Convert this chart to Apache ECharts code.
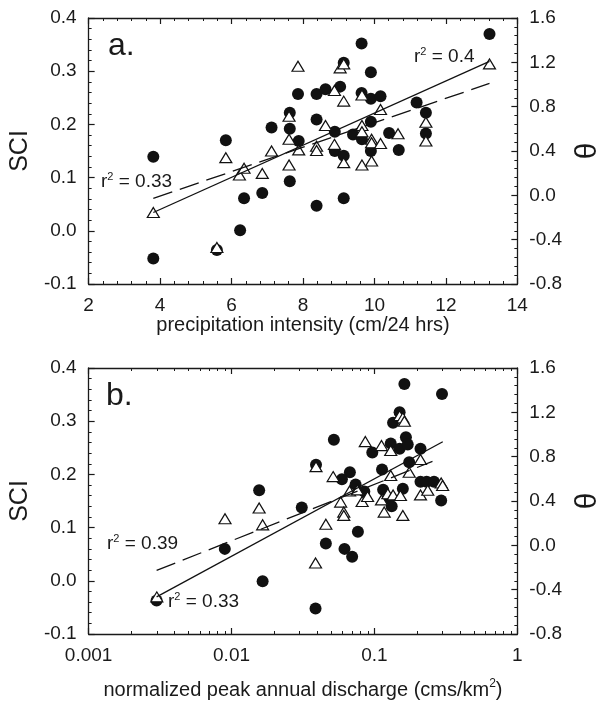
<!DOCTYPE html>
<html>
<head>
<meta charset="utf-8">
<script src="https://cdn.jsdelivr.net/npm/echarts@6/dist/echarts.min.js"></script>
<style>
  html, body { margin: 0; padding: 0; background: #fff; }
  #main { width: 611px; height: 706px; }
</style>
</head>
<body>
<div id="main"></div>
<script>
// panel a - SCI (filled circles) vs precipitation intensity
const precipSciX = [3.81, 3.81, 5.84, 5.59, 6.35, 6.24, 6.86, 7.12, 7.63, 7.63, 7.63, 7.86, 7.88, 8.38, 8.38, 8.38,
  8.63, 9.04, 8.89, 8.89, 9.14, 9.14, 9.14, 9.40, 9.64, 9.64, 9.65, 9.90, 9.90, 9.90, 9.90, 10.17, 10.41, 10.68,
  11.18, 11.44, 11.44, 13.22];
const precipSci = [0.139, -0.052, 0.170, -0.036, 0.061, 0.001, 0.071, 0.194, 0.222, 0.192, 0.093, 0.257, 0.169, 0.257, 0.209, 0.047,
  0.266, 0.271, 0.186, 0.150, 0.316, 0.141, 0.061, 0.181, 0.352, 0.259, 0.172, 0.298, 0.248, 0.205, 0.150, 0.253, 0.184, 0.152,
  0.241, 0.222, 0.183, 0.370];

// panel a - theta (open triangles)
const precipThetaX = [3.81, 5.59, 5.84, 6.22, 6.35, 6.86, 7.12, 7.61, 7.61, 7.61, 7.86, 7.88, 8.38, 8.38, 8.63, 8.88, 8.88,
  9.04, 9.14, 9.14, 9.14, 9.65, 9.65, 9.65, 9.65, 9.92, 9.92, 9.92, 10.17, 10.17, 10.66, 11.44, 11.44, 13.22];
const precipTheta = [-0.155, -0.47, 0.34, 0.184, 0.244, 0.198, 0.40, 0.506, 0.714, 0.274, 1.165, 0.41, 0.443, 0.405, 0.63, 0.946, 0.46,
  1.15, 0.85, 0.295, 1.186, 0.905, 0.63, 0.574, 0.274, 0.506, 0.475, 0.31, 0.775, 0.467, 0.556, 0.66, 0.49, 1.186];

// panel a - regression lines
const precipFitX = [3.81, 13.22];
const precipFitSci = [0.061, 0.277];
const precipFitTheta = [-0.155, 1.209];

// panel b - SCI vs normalized peak annual discharge
const dischSciX = [0.162, 0.297, 0.150, 0.135, 0.052, 0.166, 0.130, 0.150, 0.171, 0.0966, 0.210, 0.039, 0.175, 0.113, 0.0673,
  0.0592, 0.0738, 0.0849, 0.115, 0.158, 0.210, 0.232, 0.261, 0.132, 0.125, 0.293, 0.031, 0.0156, 0.00897, 0.0165, 0.0457,
  0.0617, 0.0698, 0.0766, 0.0387, 0.00299];
const dischSci = [0.370, 0.351, 0.317, 0.297, 0.265, 0.270, 0.258, 0.248, 0.256, 0.241, 0.248, 0.218, 0.223, 0.209, 0.204,
  0.191, 0.181, 0.168, 0.171, 0.173, 0.186, 0.186, 0.186, 0.140, 0.152, 0.151, 0.138, 0.170, 0.060, -0.001, 0.070,
  0.060, 0.045, 0.092, -0.052, -0.037];

// panel b - theta
const dischThetaX = [0.150, 0.158, 0.162, 0.0863, 0.112, 0.130, 0.039, 0.0514, 0.130, 0.175, 0.210, 0.067, 0.076, 0.058, 0.082,
  0.0895, 0.112, 0.124, 0.135, 0.152, 0.210, 0.236, 0.293, 0.300, 0.117, 0.158, 0.061, 0.061, 0.0457, 0.0165, 0.0156,
  0.009, 0.0387, 0.003];
const dischTheta = [1.17, 1.15, 1.12, 0.936, 0.90, 0.856, 0.71, 0.62, 0.63, 0.66, 0.775, 0.49, 0.50, 0.39, 0.395,
  0.44, 0.41, 0.466, 0.455, 0.45, 0.455, 0.497, 0.563, 0.54, 0.30, 0.27, 0.30, 0.27, 0.19, 0.185, 0.337,
  0.24, -0.16, -0.465];

// panel b - regression lines
const dischFitSciX = [0.00299, 0.2547];
const dischFitSci = [0.0196, 0.2244];
const dischFitThetaX = [0.00299, 0.3006];
const dischFitTheta = [-0.465, 0.935];

const logTickLabels = ['0.001', '0.01', '0.1', '1'];

const font = 'Liberation Sans, Arial, sans-serif';
const ink = '#1a1a1a';

function pts(xs, ys) {
  return xs.map((x, i) => [x, ys[i]]);
}

function minor(n) {
  return { show: true, splitNumber: n, length: 3, lineStyle: { color: ink, width: 1 } };
}

function xAx(grid, type, opts) {
  return Object.assign({
    gridIndex: grid,
    type: type,
    axisLine: { onZero: false, lineStyle: { color: ink, width: 1.3 } },
    axisTick: { inside: true, length: 6, lineStyle: { color: ink, width: 1.2 } },
    splitLine: { show: false },
    axisLabel: { color: ink, fontSize: 19, fontFamily: font, margin: 12 }
  }, opts);
}

function yAx(grid, opts) {
  return Object.assign({
    gridIndex: grid,
    type: 'value',
    axisLine: { show: true, onZero: false, lineStyle: { color: ink, width: 1.3 } },
    axisTick: { show: true, inside: true, length: 6, lineStyle: { color: ink, width: 1.2 } },
    splitLine: { show: false },
    nameLocation: 'middle',
    axisLabel: { color: ink, fontSize: 19, fontFamily: font, margin: 12, formatter: v => v.toFixed(1) }
  }, opts);
}

function circles(xi, yi, data) {
  return {
    type: 'scatter', xAxisIndex: xi, yAxisIndex: yi, data: data,
    symbol: 'circle', symbolSize: 12,
    itemStyle: { color: '#111', opacity: 1 }
  };
}

function triangles(xi, yi, data) {
  return {
    type: 'scatter', xAxisIndex: xi, yAxisIndex: yi, data: data,
    symbol: 'triangle', symbolSize: [12, 10],
    itemStyle: { color: '#fff', borderColor: '#111', borderWidth: 1.2, opacity: 1 }
  };
}

function fit(xi, yi, data, dashed) {
  return {
    type: 'line', xAxisIndex: xi, yAxisIndex: yi, data: data,
    showSymbol: false, symbol: 'none', z: 5,
    lineStyle: { color: '#111', width: 1.3, type: dashed ? [20, 8] : 'solid' }
  };
}

const rText = {
  b: { fontSize: 19, fontFamily: font, fill: ink, lineHeight: 22 },
  s: { fontSize: 11, fontFamily: font, fill: ink, verticalAlign: 'top', lineHeight: 22 }
};

const chart = echarts.init(document.getElementById('main'));

chart.setOption({
  animation: false,
  backgroundColor: '#fff',
  grid: [
    { left: 82, top: 18, width: 446, height: 266 },
    { left: 82, top: 368, width: 446, height: 266 }
  ],
  xAxis: [
    xAx(0, 'value', {
      min: 2, max: 14, interval: 2, position: 'bottom',
      minorTick: minor(5),
      name: 'precipitation intensity (cm/24 hrs)', nameLocation: 'middle', nameGap: 31,
      nameTextStyle: { color: ink, fontSize: 20, fontFamily: font }
    }),
    xAx(0, 'value', {
      min: 2, max: 14, interval: 2, position: 'top',
      minorTick: minor(5),
      axisLabel: { show: false }
    }),
    xAx(1, 'log', {
      min: 0.001, max: 1, logBase: 10, position: 'bottom',
      minorTick: minor(9),
      axisLabel: {
        color: ink, fontSize: 19, fontFamily: font, margin: 12,
        formatter: v => logTickLabels[Math.round(Math.log10(v)) + 3]
      },
      name: '{n|normalized peak annual discharge (cms/km}{s|2}{n|)}', nameLocation: 'middle', nameGap: 44,
      nameTextStyle: {
        rich: {
          n: { color: ink, fontSize: 20, fontFamily: font, lineHeight: 24 },
          s: { color: ink, fontSize: 12, fontFamily: font, verticalAlign: 'top', lineHeight: 24 }
        }
      }
    }),
    xAx(1, 'log', {
      min: 0.001, max: 1, logBase: 10, position: 'top',
      minorTick: minor(9),
      axisLabel: { show: false }
    })
  ],
  yAxis: [
    yAx(0, { min: -0.1, max: 0.4, interval: 0.1, position: 'left', minorTick: minor(5),
      name: 'SCI', nameGap: 50, nameTextStyle: { color: ink, fontSize: 25, fontFamily: font } }),
    yAx(0, { min: -0.8, max: 1.6, interval: 0.4, position: 'right', minorTick: minor(5),
      name: 'θ', nameGap: 54, nameTextStyle: { color: ink, fontSize: 30, fontFamily: font } }),
    yAx(1, { min: -0.1, max: 0.4, interval: 0.1, position: 'left', minorTick: minor(5),
      name: 'SCI', nameGap: 50, nameTextStyle: { color: ink, fontSize: 25, fontFamily: font } }),
    yAx(1, { min: -0.8, max: 1.6, interval: 0.4, position: 'right', minorTick: minor(5),
      name: 'θ', nameGap: 54, nameTextStyle: { color: ink, fontSize: 30, fontFamily: font } })
  ],
  series: [
    circles(0, 0, pts(precipSciX, precipSci)),
    triangles(0, 1, pts(precipThetaX, precipTheta)),
    fit(0, 1, pts(precipFitX, precipFitTheta), false),
    fit(0, 0, pts(precipFitX, precipFitSci), true),
    circles(2, 2, pts(dischSciX, dischSci)),
    triangles(2, 3, pts(dischThetaX, dischTheta)),
    fit(2, 3, pts(dischFitThetaX, dischFitTheta), false),
    fit(2, 2, pts(dischFitSciX, dischFitSci), true)
  ],
  graphic: [
    { type: 'text', left: 108, top: 30, style: { text: 'a.', fontSize: 32, fontFamily: font, fill: ink } },
    { type: 'text', left: 106, top: 380, style: { text: 'b.', fontSize: 32, fontFamily: font, fill: ink } },
    { type: 'text', left: 414, top: 46, style: { text: '{b|r}{s|2}{b| = 0.4}', rich: rText } },
    { type: 'text', left: 101, top: 171, style: { text: '{b|r}{s|2}{b| = 0.33}', rich: rText } },
    { type: 'text', left: 107, top: 533, style: { text: '{b|r}{s|2}{b| = 0.39}', rich: rText } },
    { type: 'text', left: 168, top: 591, style: { text: '{b|r}{s|2}{b| = 0.33}', rich: rText } }
  ]
});
</script>
</body>
</html>
